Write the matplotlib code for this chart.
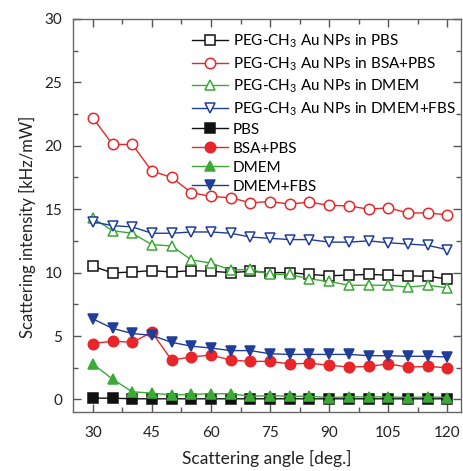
import matplotlib
matplotlib.use("Agg")
import matplotlib.pyplot as plt
from matplotlib.ticker import MultipleLocator

plt.rcParams["font.family"] = ["Lato", "DejaVu Sans"]
plt.rcParams["mathtext.fontset"] = "custom"
plt.rcParams["mathtext.rm"] = "Lato"
plt.rcParams["mathtext.it"] = "Lato:italic"

angle = [30, 35, 40, 45, 50, 55, 60, 65, 70, 75, 80, 85, 90, 95, 100, 105, 110, 115, 120]

np_pbs = [10.5, 9.97, 10.05, 10.15, 10.05, 10.15, 10.1, 10.0, 10.1, 10.0, 10.0, 9.85, 9.75,
          9.8, 9.85, 9.8, 9.75, 9.7, 9.5]
np_bsa_pbs = [22.2, 20.1, 20.1, 18.0, 17.5, 16.3, 16.0, 15.9, 15.5, 15.6, 15.4, 15.55, 15.3,
              15.25, 15.0, 15.1, 14.7, 14.7, 14.55]
np_dmem = [14.3, 13.3, 13.1, 12.2, 12.1, 11.0, 10.75, 10.2, 10.25, 9.85, 9.85, 9.5, 9.3,
           9.0, 9.0, 9.0, 8.85, 9.0, 8.8]
np_dmem_fbs = [14.0, 13.7, 13.6, 13.1, 13.1, 13.2, 13.2, 13.1, 12.8, 12.7, 12.6, 12.6, 12.4,
               12.4, 12.5, 12.35, 12.25, 12.15, 11.8]
pbs = [0.1, 0.1, 0.05, 0.05, 0.05, 0.05, 0.05, 0.05, 0.05, 0.05, 0.05, 0.05, 0.05,
       0.05, 0.05, 0.05, 0.05, 0.05, 0.05]
bsa_pbs = [4.4, 4.6, 4.5, 5.3, 3.1, 3.35, 3.5, 3.1, 3.0, 3.0, 2.8, 2.85, 2.7,
           2.55, 2.6, 2.8, 2.55, 2.6, 2.5]
dmem = [2.8, 1.6, 0.6, 0.5, 0.35, 0.4, 0.45, 0.45, 0.25, 0.3, 0.25, 0.25, 0.15,
        0.2, 0.2, 0.2, 0.15, 0.2, 0.15]
dmem_fbs = [6.35, 5.6, 5.2, 5.05, 4.5, 4.2, 4.05, 3.85, 3.85, 3.6, 3.55, 3.55, 3.55,
            3.55, 3.45, 3.45, 3.4, 3.4, 3.35]

BLACK, RED, GREEN, BLUE = "#111111", "#e8262a", "#3aaa35", "#1f3d99"

series = [
    (np_pbs, r"PEG-CH$_3$ Au NPs in PBS", BLACK, "s", False),
    (np_bsa_pbs, r"PEG-CH$_3$ Au NPs in BSA+PBS", RED, "o", False),
    (np_dmem, r"PEG-CH$_3$ Au NPs in DMEM", GREEN, "^", False),
    (np_dmem_fbs, r"PEG-CH$_3$ Au NPs in DMEM+FBS", BLUE, "v", False),
    (pbs, "PBS", BLACK, "s", True),
    (bsa_pbs, "BSA+PBS", RED, "o", True),
    (dmem, "DMEM", GREEN, "^", True),
    (dmem_fbs, "DMEM+FBS", BLUE, "v", True),
]

fig = plt.figure(figsize=(4.63, 4.71), dpi=100)
ax = fig.add_axes([0.158, 0.125, 0.838, 0.835])

for values, label, color, marker, filled in series:
    ax.plot(angle, values, color=color, linewidth=1.0, marker=marker, markersize=7.5,
            markerfacecolor=color if filled else "white", markeredgecolor=color,
            markeredgewidth=1.1, label=label)

ax.set_xlim(25, 123.5)
ax.set_ylim(-1, 30)
ax.xaxis.set_major_locator(MultipleLocator(15))
ax.xaxis.set_minor_locator(MultipleLocator(7.5))
ax.yaxis.set_major_locator(MultipleLocator(5))
ax.yaxis.set_minor_locator(MultipleLocator(2.5))
ax.tick_params(which="both", direction="in", top=True, right=True, colors="#555555",
               labelcolor="#222222", labelsize=11, width=1.0)
ax.tick_params(which="major", length=6)
ax.tick_params(which="minor", length=3.5)
ax.tick_params(axis="x", which="major", pad=10)
ax.tick_params(axis="y", which="major", pad=8)
for spine in ax.spines.values():
    spine.set_color("#666666")
    spine.set_linewidth(1.0)

ax.set_xlabel("Scattering angle [deg.]", fontsize=12.5, color="#222222")
ax.set_ylabel("Scattering intensity [kHz/mW]", fontsize=12, color="#222222")
ax.xaxis.set_label_coords(0.5, -0.095)
ax.yaxis.set_label_coords(-0.097, 0.47)

ax.legend(loc="upper left", bbox_to_anchor=(0.29, 0.98), frameon=False, fontsize=11,
          handlelength=2.4, handletextpad=0.3, labelspacing=0.33, borderaxespad=0)

fig.savefig("out.png", dpi=100)
